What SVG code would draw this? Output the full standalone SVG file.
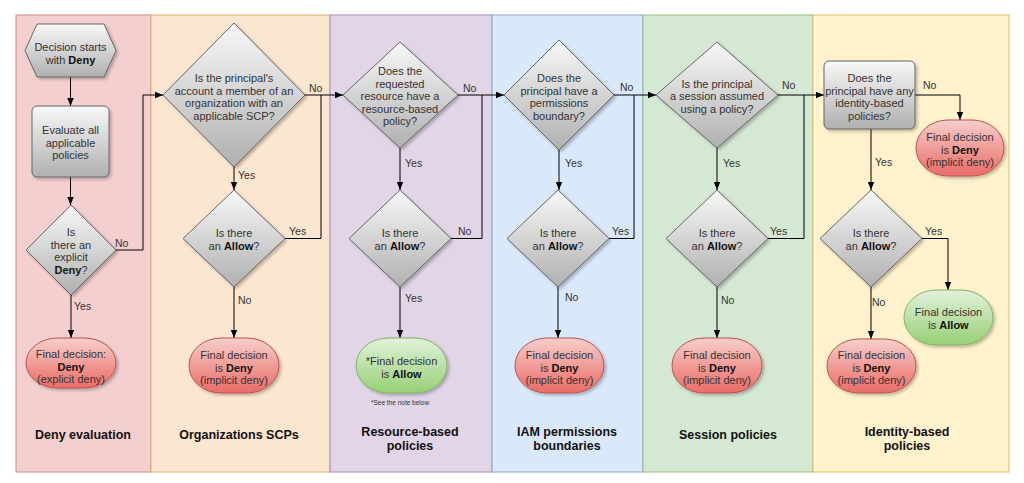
<svg xmlns="http://www.w3.org/2000/svg" width="1024" height="483" viewBox="0 0 1024 483">
<defs>
<linearGradient id="gGray" x1="0" y1="0" x2="0" y2="1"><stop offset="0" stop-color="#f8f8f8"/><stop offset="1" stop-color="#b0b0b0"/></linearGradient>
<linearGradient id="gRed" x1="0" y1="0" x2="0" y2="1"><stop offset="0" stop-color="#f8cecc"/><stop offset="1" stop-color="#ea6b66"/></linearGradient>
<linearGradient id="gGreen" x1="0" y1="0" x2="0" y2="1"><stop offset="0" stop-color="#e2f1da"/><stop offset="1" stop-color="#97d077"/></linearGradient>
<filter id="sh" x="-20%" y="-20%" width="150%" height="150%"><feDropShadow dx="2" dy="2" stdDeviation="1.5" flood-color="#000" flood-opacity="0.25"/></filter>
<marker id="ar" viewBox="0 0 10 10" refX="10" refY="5" markerWidth="8" markerHeight="8" markerUnits="userSpaceOnUse" orient="auto"><path d="M0,1 L10,5 L0,9 z" fill="#000"/></marker>
<style>
.gray{fill:url(#gGray);stroke:#666;stroke-width:1;filter:url(#sh)}
.red{fill:url(#gRed);stroke:#b85450;stroke-width:1;filter:url(#sh)}
.green{fill:url(#gGreen);stroke:#82b366;stroke-width:1;filter:url(#sh)}
.t{font-family:"Liberation Sans",Arial,sans-serif;font-size:11px;fill:#333;text-anchor:middle}
.b{font-weight:bold;fill:#111}
.lbl{font-family:"Liberation Sans",Arial,sans-serif;font-size:10.5px;fill:#333}
.lane{font-family:"Liberation Sans",Arial,sans-serif;font-size:12.5px;font-weight:bold;fill:#111;text-anchor:middle}
.note{font-family:"Liberation Sans",Arial,sans-serif;font-size:6.5px;fill:#333;text-anchor:middle}
.c{fill:none;stroke:#000;stroke-width:1}
.a{marker-end:url(#ar)}
</style>
</defs>
<rect width="1024" height="483" fill="#fff"/>
<g id="lanes">
<rect x="16" y="15" width="135" height="457" fill="#f4cfcf" stroke="#c98a88"/>
<rect x="151" y="15" width="179" height="457" fill="#fde6cf" stroke="#e0b070"/>
<rect x="330" y="15" width="162" height="457" fill="#e1d5e7" stroke="#a68cb5"/>
<rect x="492" y="15" width="151" height="457" fill="#dae8fc" stroke="#8aa6d0"/>
<rect x="643" y="15" width="170" height="457" fill="#d5e8d4" stroke="#98c07e"/>
<rect x="813" y="15" width="196" height="457" fill="#fff2cc" stroke="#d9bf6a"/>
<text class="lane" x="83" y="439">Deny evaluation</text>
<text class="lane" x="239" y="439">Organizations SCPs</text>
<text class="lane" x="410" y="435.5">Resource-based<tspan x="410" dy="14">policies</tspan></text>
<text class="lane" x="567" y="435.5">IAM permissions<tspan x="567" dy="14">boundaries</tspan></text>
<text class="lane" x="728" y="439">Session policies</text>
<text class="lane" x="907" y="435.5">Identity-based<tspan x="907" dy="14">policies</tspan></text>
</g>
<g id="connectors">
<path class="c a" d="M70.5,77 V106"/>
<path class="c a" d="M70.5,177 V205"/>
<path class="c a" d="M71,295 V338"/>
<path class="c a" d="M116,250 H143 V95 H163"/>
<path class="c a" d="M234,167 V190"/>
<path class="c a" d="M234,287 V338"/>
<path class="c a" d="M305,95 H343"/>
<path class="c" d="M285,238.5 H321 V95"/>
<path class="c a" d="M400,148 V190"/>
<path class="c a" d="M400,287 V338"/>
<path class="c a" d="M458,95 H504"/>
<path class="c" d="M451,238.5 H482 V95"/>
<path class="c a" d="M559,150 V190"/>
<path class="c a" d="M558,287 V338"/>
<path class="c a" d="M614,95 H656"/>
<path class="c" d="M609,238.5 H634 V95"/>
<path class="c a" d="M717,148 V190"/>
<path class="c a" d="M717,287 V338"/>
<path class="c a" d="M778,95 H824"/>
<path class="c" d="M768,238.5 H804 V95"/>
<path class="c a" d="M915,95 H960 V120"/>
<path class="c a" d="M871,129 V190"/>
<path class="c a" d="M922,238.5 H948 V290"/>
<path class="c a" d="M871,287 V339"/>
<text class="lbl" x="115" y="247">No</text>
<text class="lbl" x="74" y="310">Yes</text>
<text class="lbl" x="309" y="92">No</text>
<text class="lbl" x="238" y="179">Yes</text>
<text class="lbl" x="289" y="235">Yes</text>
<text class="lbl" x="238" y="304">No</text>
<text class="lbl" x="463" y="92">No</text>
<text class="lbl" x="405" y="167">Yes</text>
<text class="lbl" x="458" y="235">No</text>
<text class="lbl" x="405" y="302">Yes</text>
<text class="lbl" x="620" y="91">No</text>
<text class="lbl" x="565" y="167">Yes</text>
<text class="lbl" x="612" y="235">Yes</text>
<text class="lbl" x="565" y="301">No</text>
<text class="lbl" x="782" y="89">No</text>
<text class="lbl" x="723" y="167">Yes</text>
<text class="lbl" x="770" y="235">Yes</text>
<text class="lbl" x="721" y="304">No</text>
<text class="lbl" x="923" y="89">No</text>
<text class="lbl" x="875" y="166">Yes</text>
<text class="lbl" x="925" y="235">Yes</text>
<text class="lbl" x="872" y="306">No</text>
</g>
<g id="start">
<path class="gray" d="M37,24 H104 L116,50.5 L104,77 H37 L25,50.5 Z"/>
<text class="t" x="70.5" y="51">Decision starts<tspan x="70.5" dy="13">with <tspan class="b">Deny</tspan></tspan></text>
</g>
<g id="evaluate">
<rect class="gray" x="32" y="106" width="77" height="71" rx="5"/>
<text class="t" x="70.5" y="134">Evaluate all<tspan x="70.5" dy="12.5">applicable</tspan><tspan x="70.5" dy="12.5">policies</tspan></text>
</g>
<g id="explicit-deny">
<polygon class="gray" points="71,205 116,250 71,295 26,250"/>
<text class="t" x="71" y="236">Is<tspan x="71" dy="12.5">there an</tspan><tspan x="71" dy="12.5">explicit</tspan><tspan x="71" dy="12.5" class="b">Deny</tspan>?</text>
</g>
<g id="final-explicit-deny">
<rect class="red" x="26" y="338" width="90" height="50" rx="32" ry="25"/>
<text class="t" x="71" y="358">Final decision:<tspan x="71" dy="12.5" class="b">Deny</tspan><tspan x="71" dy="12.5">(explicit deny)</tspan></text>
</g>
<g id="scp-member">
<polygon class="gray" points="234,23 305,95 234,167 163,95"/>
<text class="t" x="234" y="82">Is the principal's<tspan x="234" dy="12.5">account a member of an</tspan><tspan x="234" dy="12.5">organization with an</tspan><tspan x="234" dy="12.5">applicable SCP?</tspan></text>
</g>
<g id="scp-allow">
<polygon class="gray" points="234,190 285,238.5 234,287 183,238.5"/>
<text class="t" x="234" y="237">Is there<tspan x="234" dy="12.5">an <tspan class="b">Allow</tspan>?</tspan></text>
</g>
<g id="scp-deny">
<rect class="red" x="189" y="338" width="90" height="55" rx="32" ry="27.5"/>
<text class="t" x="234" y="359">Final decision<tspan x="234" dy="12.5">is <tspan class="b">Deny</tspan></tspan><tspan x="234" dy="12.5">(implicit deny)</tspan></text>
</g>
<g id="rbp-has">
<polygon class="gray" points="400,42 458,95 400,148 343,95"/>
<text class="t" x="400" y="75">Does the<tspan x="400" dy="12.5">requested</tspan><tspan x="400" dy="12.5">resource have a</tspan><tspan x="400" dy="12.5">resource-based</tspan><tspan x="400" dy="12.5">policy?</tspan></text>
</g>
<g id="rbp-allow">
<polygon class="gray" points="400,190 451,238.5 400,287 349,238.5"/>
<text class="t" x="400" y="237">Is there<tspan x="400" dy="12.5">an <tspan class="b">Allow</tspan>?</tspan></text>
</g>
<g id="rbp-final-allow">
<rect class="green" x="356" y="338" width="91" height="55" rx="32" ry="27.5"/>
<text class="t" x="401.5" y="365">*Final decision<tspan x="401.5" dy="12.5">is <tspan class="b">Allow</tspan></tspan></text>
<text class="note" x="400" y="405">*See the note below</text>
</g>
<g id="pb-has">
<polygon class="gray" points="559,40 614,95 559,150 504,95"/>
<text class="t" x="559" y="82">Does the<tspan x="559" dy="12.5">principal have a</tspan><tspan x="559" dy="12.5">permissions</tspan><tspan x="559" dy="12.5">boundary?</tspan></text>
</g>
<g id="pb-allow">
<polygon class="gray" points="558,190 609,238.5 558,287 507,238.5"/>
<text class="t" x="558" y="237">Is there<tspan x="558" dy="12.5">an <tspan class="b">Allow</tspan>?</tspan></text>
</g>
<g id="pb-deny">
<rect class="red" x="515" y="338" width="89" height="55" rx="32" ry="27.5"/>
<text class="t" x="559.5" y="359">Final decision<tspan x="559.5" dy="12.5">is <tspan class="b">Deny</tspan></tspan><tspan x="559.5" dy="12.5">(implicit deny)</tspan></text>
</g>
<g id="sp-has">
<polygon class="gray" points="717,42 778,95 717,148 656,95"/>
<text class="t" x="717" y="87.5">Is the principal<tspan x="717" dy="12.5">a session assumed</tspan><tspan x="717" dy="12.5">using a policy?</tspan></text>
</g>
<g id="sp-allow">
<polygon class="gray" points="717,190 768,238.5 717,287 666,238.5"/>
<text class="t" x="717" y="237">Is there<tspan x="717" dy="12.5">an <tspan class="b">Allow</tspan>?</tspan></text>
</g>
<g id="sp-deny">
<rect class="red" x="672" y="338" width="90" height="55" rx="32" ry="27.5"/>
<text class="t" x="717" y="359">Final decision<tspan x="717" dy="12.5">is <tspan class="b">Deny</tspan></tspan><tspan x="717" dy="12.5">(implicit deny)</tspan></text>
</g>
<g id="ib-has">
<rect class="gray" x="824" y="61" width="91" height="68" rx="5"/>
<text class="t" x="869.5" y="82">Does the<tspan x="869.5" dy="12.5">principal have any</tspan><tspan x="869.5" dy="12.5">identity-based</tspan><tspan x="869.5" dy="12.5">policies?</tspan></text>
</g>
<g id="ib-none-deny">
<rect class="red" x="916" y="120" width="88" height="56" rx="32" ry="28"/>
<text class="t" x="960" y="141">Final decision<tspan x="960" dy="12.5">is <tspan class="b">Deny</tspan></tspan><tspan x="960" dy="12.5">(implicit deny)</tspan></text>
</g>
<g id="ib-allow">
<polygon class="gray" points="871,190 922,238.5 871,287 820,238.5"/>
<text class="t" x="871" y="237">Is there<tspan x="871" dy="12.5">an <tspan class="b">Allow</tspan>?</tspan></text>
</g>
<g id="ib-final-allow">
<rect class="green" x="904" y="290" width="89" height="55" rx="32" ry="27.5"/>
<text class="t" x="948.5" y="316">Final decision<tspan x="948.5" dy="12.5">is <tspan class="b">Allow</tspan></tspan></text>
</g>
<g id="ib-deny">
<rect class="red" x="827" y="339" width="89" height="54" rx="32" ry="27"/>
<text class="t" x="871.5" y="359">Final decision<tspan x="871.5" dy="12.5">is <tspan class="b">Deny</tspan></tspan><tspan x="871.5" dy="12.5">(implicit deny)</tspan></text>
</g>
</svg>
